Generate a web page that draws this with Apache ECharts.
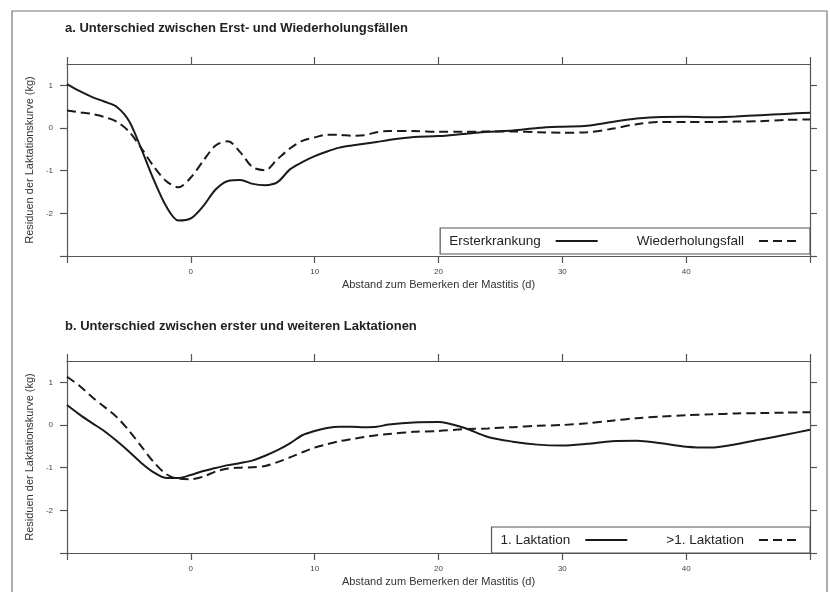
<!DOCTYPE html>
<html>
<head>
<meta charset="utf-8">
<script src="https://cdn.jsdelivr.net/npm/echarts@6/dist/echarts.min.js"></script>
<style>
html,body{margin:0;padding:0;background:#fff;}
#chart{width:830px;height:592px;}
</style>
</head>
<body>
<div id="chart"></div>
<script>
// Tage relativ zum Bemerken der Mastitis
var tage = [-10,-9,-8,-7,-6,-5,-4,-3,-2,-1,0,1,2,3,4,5,6,7,8,9,10,11,12,13,14,15,16,
  18,20,22,24,26,28,30,32,34,36,38,40,42,44,46,48,50];

// a. Erst- vs. Wiederholungsfall
var ersterkrankung = [1.03,0.87,0.73,0.62,0.50,0.17,-0.49,-1.21,-1.83,-2.17,-2.12,-1.83,-1.44,-1.24,-1.22,-1.31,-1.34,-1.27,-0.97,-0.80,-0.66,-0.55,-0.46,-0.41,-0.37,-0.33,-0.28,
  -0.21,-0.19,-0.14,-0.09,-0.06,0.00,0.03,0.05,0.14,0.22,0.26,0.265,0.25,0.27,0.30,0.33,0.36];
var wiederholungsfall = [0.41,0.37,0.33,0.26,0.15,-0.08,-0.47,-0.90,-1.24,-1.39,-1.16,-0.77,-0.41,-0.31,-0.57,-0.92,-0.99,-0.73,-0.48,-0.30,-0.22,-0.16,-0.16,-0.18,-0.17,-0.10,-0.07,
  -0.07,-0.09,-0.09,-0.08,-0.08,-0.10,-0.11,-0.10,-0.02,0.09,0.14,0.14,0.14,0.15,0.16,0.19,0.20];

// b. erste vs. weitere Laktationen
var laktation1 = [0.47,0.25,0.05,-0.14,-0.37,-0.62,-0.89,-1.11,-1.24,-1.24,-1.17,-1.08,-1.01,-0.94,-0.89,-0.83,-0.72,-0.59,-0.43,-0.24,-0.14,-0.07,-0.04,-0.04,-0.05,-0.04,0.01,
  0.06,0.07,-0.06,-0.28,-0.39,-0.46,-0.48,-0.44,-0.38,-0.37,-0.43,-0.51,-0.53,-0.45,-0.34,-0.23,-0.11];
var laktationWeitere = [1.13,0.92,0.66,0.43,0.19,-0.13,-0.50,-0.87,-1.15,-1.26,-1.27,-1.21,-1.09,-1.02,-1.00,-0.99,-0.96,-0.87,-0.76,-0.64,-0.53,-0.45,-0.38,-0.33,-0.28,-0.24,-0.21,
  -0.16,-0.14,-0.10,-0.08,-0.05,-0.02,0.00,0.04,0.10,0.16,0.20,0.23,0.25,0.27,0.28,0.29,0.30];

var xTicks = [-10,0,10,20,30,40,50];
var xLabels = [0,10,20,30,40];
var yTicks = [-3,-2,-1,0,1];
var yLabels = [-2,-1,0,1];

var titel = ['a. Unterschied zwischen Erst- und Wiederholungsfällen', 'b. Unterschied zwischen erster und weiteren Laktationen'];
var xName = 'Abstand zum Bemerken der Mastitis (d)';
var yName = 'Residuen der Laktationskurve (kg)';

function paare(werte){
  return tage.map(function(t,i){ return [t, werte[i]]; });
}

var font = '"Liberation Sans", Arial, Helvetica, sans-serif';
var axCol = '#555';

function xAchse(grid, pos){
  var unten = pos === 'bottom';
  return {
    type:'value', gridIndex:grid, position:pos, min:-10, max:50,
    name: unten ? xName : '', nameLocation:'middle', nameGap:23,
    nameTextStyle:{fontFamily:font, fontSize:11, color:'#333'},
    axisLine:{show:true, onZero:false, lineStyle:{color:axCol, width:1.2}},
    axisTick:{show:true, inside:false, length:7, customValues:xTicks, lineStyle:{color:axCol, width:1.2}},
    axisLabel:{show:unten, customValues:xLabels, margin:12, fontFamily:font, fontSize:8, color:'#444'},
    splitLine:{show:false}
  };
}
function yAchse(grid, pos){
  var links = pos === 'left';
  return {
    type:'value', gridIndex:grid, position:pos, min:-3, max:1.5,
    name: links ? yName : '', nameLocation:'middle', nameGap:31, nameRotate:90,
    nameTextStyle:{fontFamily:font, fontSize:11, color:'#333'},
    axisLine:{show:true, onZero:false, lineStyle:{color:axCol, width:1.2}},
    axisTick:{show:true, inside:false, length:7, customValues:yTicks, lineStyle:{color:axCol, width:1.2}},
    axisLabel:{show:links, customValues:yLabels, margin:14, fontFamily:font, fontSize:8, color:'#444'},
    splitLine:{show:false}
  };
}
function legende(daten, top){
  return {
    data:daten, right:20, top:top, orient:'horizontal', align:'right',
    itemWidth:42, itemHeight:12, itemGap:38,
    padding:[6,8,6,9],
    borderColor:axCol, borderWidth:1.2, borderRadius:0,
    backgroundColor:'#fff',
    // kein Punkt im Legendensymbol, nur die Linie
    itemStyle:{opacity:0, color:'transparent', borderWidth:0},
    textStyle:{fontFamily:font, fontSize:13.5, color:'#222', padding:[0,10,0,0]}
  };
}
function linie(name, werte, x, y, gestrichelt){
  return {
    name:name, type:'line', xAxisIndex:x, yAxisIndex:y,
    data:paare(werte), symbol:'none', showSymbol:false, smooth:0.3,
    lineStyle:{color:'#1a1a1a', width:2, type: gestrichelt ? [9,5] : 'solid'},
    itemStyle:{color:'#1a1a1a'},
    z:3
  };
}

var mycharts = echarts.init(document.getElementById('chart'), null, {renderer:'canvas'});
var options = {
  backgroundColor:'#fff',
  animation:false,
  title:[
    {text:titel[0], left:60, top:17, textStyle:{fontFamily:font, fontSize:13, fontWeight:'bold', color:'#222'}},
    {text:titel[1], left:60, top:315, textStyle:{fontFamily:font, fontSize:13, fontWeight:'bold', color:'#222'}}
  ],
  graphic:[
    {type:'rect', shape:{x:12, y:11, width:815, height:600}, style:{fill:null, stroke:'#777', lineWidth:1.2}, z:-1}
  ],
  grid:[
    {left:67, width:743, top:64, height:192},
    {left:67, width:743, top:361, height:192}
  ],
  legend:[
    legende(['Ersterkrankung','Wiederholungsfall'], 228),
    legende(['1. Laktation','>1. Laktation'], 527)
  ],
  xAxis:[xAchse(0,'bottom'), xAchse(0,'top'), xAchse(1,'bottom'), xAchse(1,'top')],
  yAxis:[yAchse(0,'left'), yAchse(0,'right'), yAchse(1,'left'), yAchse(1,'right')],
  series:[
    linie('Ersterkrankung', ersterkrankung, 0, 0, false),
    linie('Wiederholungsfall', wiederholungsfall, 0, 0, true),
    linie('1. Laktation', laktation1, 2, 2, false),
    linie('>1. Laktation', laktationWeitere, 2, 2, true)
  ]
};
mycharts.setOption(options, true);
window.addEventListener('resize', function(){ mycharts.resize(); });
</script>
</body>
</html>
